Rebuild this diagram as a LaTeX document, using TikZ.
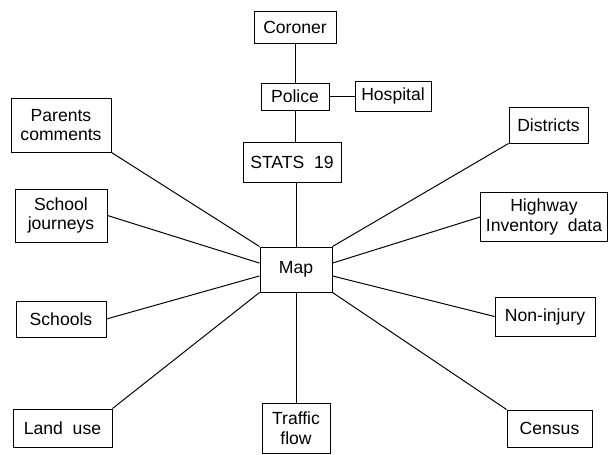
\documentclass[tikz,border=0pt]{standalone}
\usepackage{fontspec}
\setmainfont{Liberation Sans}
\usepackage{tikz}
\usetikzlibrary{calc,positioning}

\begin{document}
\begin{tikzpicture}[
    x=0.025cm, y=-0.025cm,
    box/.style={rectangle, draw, line width=0.7pt, inner sep=1pt, align=center,
        font=\fontsize{12.5}{14}\selectfont},
    link/.style={line width=0.7pt}
]
    \useasboundingbox (0,0) rectangle (610,454);
    % source chain
    \node[box, minimum width=82pt*0.711, minimum height=32pt*0.711] (coroner) at (295,27) {Coroner};
    \node[box, minimum width=68pt*0.711, minimum height=27pt*0.711] (police) at (295,96.5) {Police};
    \node[box, minimum width=76pt*0.711, minimum height=30pt*0.711] (hospital) at (393,96) {Hospital};
    \node[box, minimum width=98pt*0.711, minimum height=40pt*0.711] (stats) at (292,162) {STATS\ \ 19};
    \node[box, minimum width=72pt*0.711, minimum height=45pt*0.711] (map) at (296,269.5) {Map};
    % left side
    \node[box, minimum width=100pt*0.711, minimum height=54pt*0.711] (parents) at (61,125) {Parents\\comments};
    \node[box, minimum width=92pt*0.711, minimum height=53pt*0.711] (journeys) at (61,215.5) {School\\journeys};
    \node[box, minimum width=90pt*0.711, minimum height=36pt*0.711] (schools) at (61,319) {Schools};
    \node[box, minimum width=99pt*0.711, minimum height=38pt*0.711] (landuse) at (62.5,428) {Land\ \ use};
    % bottom
    \node[box, minimum width=68pt*0.711, minimum height=50pt*0.711] (traffic) at (296,428) {Traffic\\flow};
    % right side
    \node[box, minimum width=79pt*0.711, minimum height=36pt*0.711] (districts) at (548.5,125) {Districts};
    \node[box, minimum width=127pt*0.711, minimum height=49pt*0.711] (highway) at (544,217) {Highway\\Inventory\ \ data};
    \node[box, minimum width=100pt*0.711, minimum height=39pt*0.711] (noninjury) at (545,316.5) {Non-injury};
    \node[box, minimum width=85pt*0.711, minimum height=37pt*0.711] (census) at (549.5,428.5) {Census};

    \draw[link] (coroner) -- (police);
    \draw[link] (police.east) -- (police.east -| hospital.west);
    \draw[link] (police.south) -- (police.south |- stats.north);
    \draw[link] (stats.south -| map.north) -- (map.north);
    \draw[link] (parents.south east) -- (map.north west);
    \draw[link] (journeys.east) -- (map.170);
    \draw[link] (schools.east) -- (map.190);
    \draw[link] (landuse.north east) -- (map.south west);
    \draw[link] (map.south) -- (traffic.north);
    \draw[link] (districts.south west) -- (map.north east);
    \draw[link] (highway.west) -- (map.10);
    \draw[link] (noninjury.west) -- (map.350);
    \draw[link] (census.north west) -- (map.south east);
\end{tikzpicture}
\end{document}
